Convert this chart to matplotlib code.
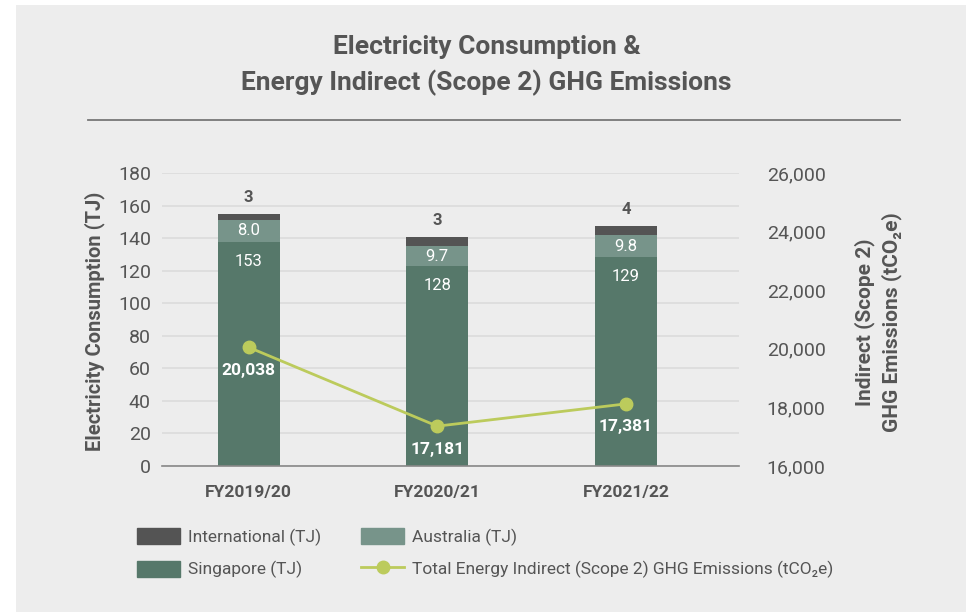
import matplotlib
matplotlib.use("Agg")
import matplotlib.pyplot as plt
from matplotlib.patches import Rectangle, Patch
from matplotlib.lines import Line2D
import numpy as np

plt.rcParams['font.family'] = ['Liberation Sans Narrow', 'Roboto', 'DejaVu Sans']

# data
years = ["FY2019/20", "FY2020/21", "FY2021/22"]
singapore = [137.8, 122.9, 128.4]
australia = [13.3, 12.2, 13.5]
international = [3.7, 5.6, 5.5]
emissions = [20050, 17360, 18120]

singapore_lbl = ["153", "128", "129"]
australia_lbl = ["8.0", "9.7", "9.8"]
international_lbl = ["3", "3", "4"]
emissions_lbl = ["20,038", "17,181", "17,381"]

c_sg = "#56786a"
c_au = "#77948a"
c_int = "#545454"
c_line = "#bccb5c"
c_text = "#555555"
bg = "#ededed"

fig = plt.figure(figsize=(9.73, 6.12), dpi=100)
fig.patch.set_facecolor("white")
# grey panel
fig.add_artist(Rectangle((16 / 973, 0), (966 - 16) / 973, 1 - 5 / 612,
                         transform=fig.transFigure, facecolor=bg, edgecolor="none", zorder=-10))

ax = fig.add_axes([162 / 973, 1 - 466 / 612, (739 - 162) / 973, (466 - 173) / 612])
ax.set_facecolor("none")
x = np.arange(len(years))
w = 0.33

ax.bar(x, singapore, w, color=c_sg, zorder=2)
ax.bar(x, australia, w, bottom=singapore, color=c_au, zorder=2)
bottom2 = np.array(singapore) + np.array(australia)
ax.bar(x, international, w, bottom=bottom2, color=c_int, zorder=2)

ax.set_ylim(0, 180)
ax.set_xlim(-0.46, 2.6)
ax.set_yticks(range(0, 181, 20))
ax.yaxis.grid(True, color="#dcdcdc", linewidth=1.2, zorder=0)
ax.set_axisbelow(True)
for s in ["top", "right", "left"]:
    ax.spines[s].set_visible(False)
ax.spines["bottom"].set_color("#888888")
ax.spines["bottom"].set_linewidth(1.2)
ax.tick_params(axis="y", length=0, labelsize=14, labelcolor=c_text, pad=8)
ax.tick_params(axis="x", length=0, pad=14)
ax.set_xticks(x)
ax.set_xticklabels(years, fontsize=12.5, fontweight="bold", color=c_text)

tops = bottom2 + np.array(international)
for i in range(len(years)):
    ax.text(x[i], tops[i] + 10, international_lbl[i], ha="center", va="center",
            fontsize=12, fontweight="bold", color=c_text)
    ax.text(x[i], singapore[i] + australia[i] / 2, australia_lbl[i], ha="center", va="center",
            fontsize=12, color="white")
    ax.text(x[i], singapore[i] - 12, singapore_lbl[i], ha="center", va="center",
            fontsize=12, color="white")

fig.text(95 / 973, 1 - 321 / 612, "Electricity Consumption (TJ)", rotation=90,
         ha="center", va="center", fontsize=14.5, fontweight="bold", color=c_text)

ax2 = ax.twinx()
ax2.set_ylim(16000, 26000)
ax2.set_yticks(range(16000, 26001, 2000))
ax2.set_yticklabels([f"{v:,}" for v in range(16000, 26001, 2000)])
ax2.tick_params(axis="y", length=0, labelsize=14, labelcolor=c_text, pad=20)
for s in ["top", "right", "left", "bottom"]:
    ax2.spines[s].set_visible(False)
ax2.plot(x, emissions, color=c_line, linewidth=2, marker="o", markersize=9, zorder=3)
for i in range(len(years)):
    ax2.text(x[i], emissions[i] - 780, emissions_lbl[i], ha="center", va="center",
             fontsize=12.5, fontweight="bold", color="white")

fig.text(878 / 973, 1 - 322 / 612, "Indirect (Scope 2)\nGHG Emissions (tCO\u2082e)",
         rotation=90, ha="center", va="center", multialignment="center",
         fontsize=15, fontweight="bold", color=c_text, linespacing=1.4)

# title and rule
fig.text(0.5, 1 - 47 / 612, "Electricity Consumption &", ha="center", va="center",
         fontsize=19, fontweight="bold", color=c_text)
fig.text(0.5, 1 - 83 / 612, "Energy Indirect (Scope 2) GHG Emissions", ha="center", va="center",
         fontsize=19, fontweight="bold", color=c_text)
fig.add_artist(Line2D([88 / 973, 900 / 973], [1 - 120 / 612] * 2, transform=fig.transFigure,
                      color="#777777", linewidth=1.3))

handles = [Patch(color=c_int), Patch(color=c_sg), Patch(color=c_au),
           Line2D([], [], color=c_line, linewidth=2, marker="o", markersize=9)]
labels = ["International (TJ)", "Singapore (TJ)", "Australia (TJ)",
          "Total Energy Indirect (Scope 2) GHG Emissions (tCO\u2082e)"]
fig.legend(handles, labels, ncol=2, loc="upper left", bbox_to_anchor=(137 / 973, 1 - 528 / 612),
           frameon=False, fontsize=12.5, labelcolor=c_text, handlelength=2.48, handleheight=1.04,
           columnspacing=2.3, handletextpad=0.46, labelspacing=0.85, borderpad=0, borderaxespad=0)

fig.savefig("out.png", dpi=100, facecolor=fig.get_facecolor())
